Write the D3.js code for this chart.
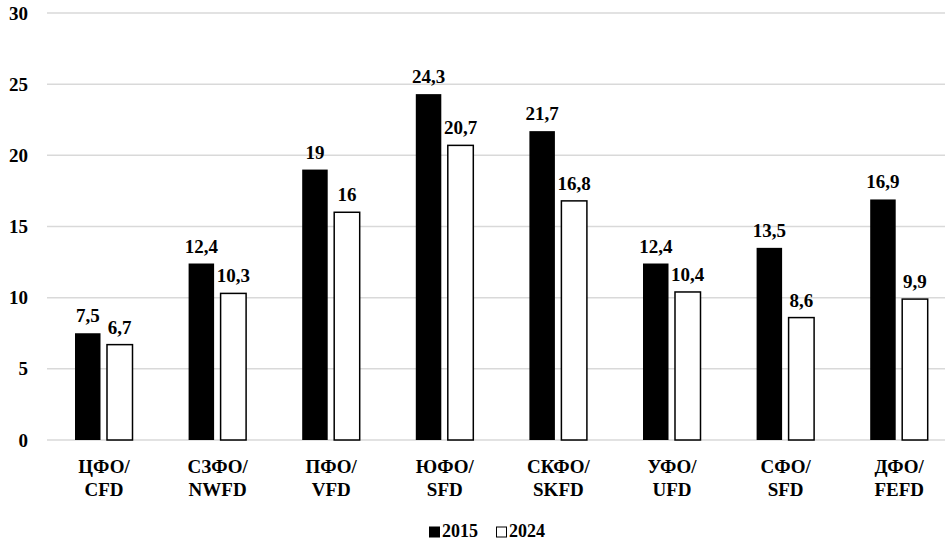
<!DOCTYPE html>
<html>
<head>
<meta charset="utf-8">
<script src="https://cdn.jsdelivr.net/npm/d3@7"></script>
<style>
  body { margin: 0; background: #fff; }
</style>
</head>
<body>
<div id="chart"></div>
<script>
const categories = [["ЦФО/", "CFD"], ["СЗФО/", "NWFD"], ["ПФО/", "VFD"], ["ЮФО/", "SFD"],
  ["СКФО/", "SKFD"], ["УФО/", "UFD"], ["СФО/", "SFD"], ["ДФО/", "FEFD"]]
const series = ["2015", "2024"]
const values2015 = [7.5, 12.4, 19, 24.3, 21.7, 12.4, 13.5, 16.9]
const values2024 = [6.7, 10.3, 16, 20.7, 16.8, 10.4, 8.6, 9.9]
const yTicks = [0, 5, 10, 15, 20, 25, 30]

const width = 950, height = 543
const margin = { top: 13, right: 5, bottom: 103, left: 47 }

const svg = d3.select("#chart").append("svg")
  .attr("width", width)
  .attr("height", height)
  .attr("font-family", "'Liberation Serif', 'Times New Roman', Times, serif")
  .attr("font-weight", "bold")

// group bands (step ~113.6px)
const x0 = d3.scaleBand()
  .domain(d3.range(categories.length))
  .range([45, 45 + 8 * 113.6])

const x1 = d3.scaleBand()
  .domain(series)
  .range([30, 87.5])
  .paddingInner(0.203)

const y = d3.scaleLinear()
  .domain([0, 30])
  .range([height - margin.bottom, margin.top])

// gridlines
svg.append("g")
  .selectAll("line")
  .data(yTicks)
  .join("line")
  .attr("x1", margin.left)
  .attr("x2", width - margin.right)
  .attr("y1", d => y(d))
  .attr("y2", d => y(d))
  .attr("stroke", "#d9d9d9")
  .attr("stroke-width", 1.5)

// y tick labels
svg.append("g")
  .selectAll("text")
  .data(yTicks)
  .join("text")
  .attr("x", 28)
  .attr("y", d => y(d))
  .attr("dy", "0.35em")
  .attr("text-anchor", "end")
  .attr("font-size", 19)
  .text(d => d)

const fmt = v => String(v).replace(".", ",")

const data = categories.map((c, i) => ({
  i,
  vals: [{ s: "2015", v: values2015[i] }, { s: "2024", v: values2024[i] }]
}))

const groups = svg.append("g")
  .selectAll("g")
  .data(data)
  .join("g")
  .attr("transform", d => `translate(${x0(d.i)},0)`)

groups.selectAll("rect")
  .data(d => d.vals)
  .join("rect")
  .attr("x", d => x1(d.s))
  .attr("width", x1.bandwidth())
  .attr("y", d => y(d.v))
  .attr("height", d => y(0) - y(d.v))
  .attr("fill", d => d.s === "2015" ? "#000" : "#fff")
  .attr("stroke", "#000")
  .attr("stroke-width", d => d.s === "2015" ? 0 : 1.5)

groups.selectAll("text.val")
  .data(d => d.vals)
  .join("text")
  .attr("class", "val")
  .attr("x", d => x1(d.s) + x1.bandwidth() / 2)
  .attr("y", d => y(d.v) - 11)
  .attr("text-anchor", "middle")
  .attr("font-size", 19)
  .text(d => fmt(d.v))

// category labels
const catLabels = svg.append("g")
  .selectAll("text")
  .data(categories)
  .join("text")
  .attr("x", (d, i) => x0(i) + 59)
  .attr("y", 473)
  .attr("text-anchor", "middle")
  .attr("font-size", 19)
catLabels.append("tspan").text(d => d[0])
catLabels.append("tspan")
  .attr("x", (d, i) => x0(i) + 59)
  .attr("dy", 23)
  .text(d => d[1])

// legend
const legend = svg.append("g")
  .attr("transform", "translate(429,537)")
const items = legend.selectAll("g")
  .data(series)
  .join("g")
  .attr("transform", (d, i) => `translate(${i * 67},0)`)
items.append("rect")
  .attr("x", 0.5)
  .attr("y", -10)
  .attr("width", 10)
  .attr("height", 10)
  .attr("fill", d => d === "2015" ? "#000" : "#fff")
  .attr("stroke", "#000")
  .attr("stroke-width", 1)
items.append("text")
  .attr("x", 13)
  .attr("y", 0)
  .attr("font-size", 18)
  .text(d => d)
</script>
</body>
</html>
